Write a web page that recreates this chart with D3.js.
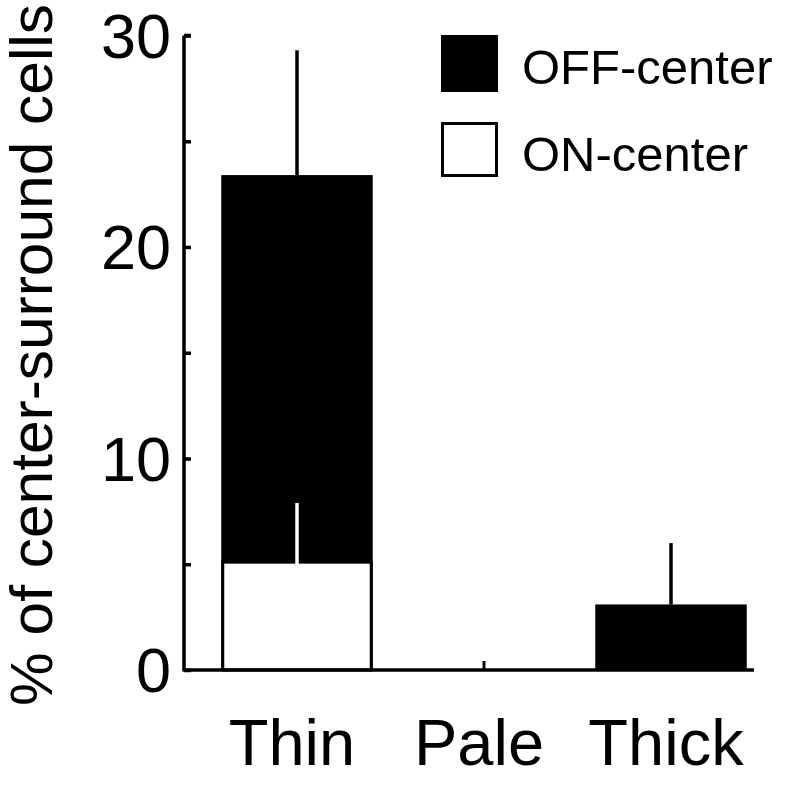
<!DOCTYPE html>
<html>
<head>
<meta charset="utf-8">
<script src="https://cdn.jsdelivr.net/npm/d3@7"></script>
<style>
  body { margin: 0; background: #fff; }
  text { font-family: "Liberation Sans", Arial, sans-serif; fill: #000; }
</style>
</head>
<body>
<svg id="chart" width="786" height="786"></svg>
<script>
// values
const categories = ["Thin", "Pale", "Thick"];
const onCenter = [5.1, 0, 0];
const offCenter = [18.3, 0, 3.1];
const onErr = [2.8, 0, 0];      // error on ON-center part
const totalErr = [5.9, 0, 2.9]; // error on the stacked total
const yTicks = [0, 5, 10, 15, 20, 25, 30];
const yLabels = [0, 10, 20, 30];
const legendItems = ["OFF-center", "ON-center"];

let svg = d3.select("#chart");

let y = d3.scaleLinear().domain([0, 30]).range([670, 35.5]);
let x = d3.scaleBand().domain(categories)
    .range([203.5, 764.5])
    .paddingInner(0.19)
    .paddingOuter(0.095);

let axisX0 = 184;

let rows = categories.map((c, i) => ({
    cat: c,
    on: onCenter[i],
    total: onCenter[i] + offCenter[i],
    onErr: onErr[i],
    totalErr: totalErr[i]
}));

// total bar (black) with its error bar
let g = svg.append("g");

g.selectAll(".err")
    .data(rows.filter(d => d.totalErr > 0))
    .join("line")
    .attr("x1", d => x(d.cat) + x.bandwidth() / 2)
    .attr("x2", d => x(d.cat) + x.bandwidth() / 2)
    .attr("y1", d => y(d.total))
    .attr("y2", d => y(d.total + d.totalErr))
    .attr("stroke", "#000")
    .attr("stroke-width", 3.5);

g.selectAll(".off")
    .data(rows.filter(d => d.total > 0))
    .join("rect")
    .attr("x", d => x(d.cat))
    .attr("width", x.bandwidth())
    .attr("y", d => y(d.total))
    .attr("height", d => y(0) - y(d.total))
    .attr("fill", "#000");

// ON-center part (white, black outline)
g.selectAll(".on")
    .data(rows.filter(d => d.on > 0))
    .join("rect")
    .attr("x", d => x(d.cat) + 1.5)
    .attr("width", x.bandwidth() - 3)
    .attr("y", d => y(d.on))
    .attr("height", d => y(0) - y(d.on))
    .attr("fill", "#fff")
    .attr("stroke", "#000")
    .attr("stroke-width", 3);

g.selectAll(".onerr")
    .data(rows.filter(d => d.onErr > 0))
    .join("line")
    .attr("x1", d => x(d.cat) + x.bandwidth() / 2)
    .attr("x2", d => x(d.cat) + x.bandwidth() / 2)
    .attr("y1", d => y(d.on) + 2)
    .attr("y2", d => y(d.on + d.onErr))
    .attr("stroke", "#fff")
    .attr("stroke-width", 3.5);

// y axis
let yAxis = d3.axisRight(y).tickValues(yTicks).tickSize(7).tickFormat("");
let ya = svg.append("g").attr("transform", `translate(${axisX0},0)`).call(yAxis);
ya.select(".domain").attr("d", `M0,${y(30)}H7M0,${y(30)}V${y(0)}`).attr("stroke-width", 3.5);
ya.selectAll(".tick line").attr("stroke-width", 3.5);

svg.selectAll(".ylab")
    .data(yLabels)
    .join("text")
    .attr("x", 171)
    .attr("y", d => y(d))
    .attr("dy", "0.35em")
    .attr("text-anchor", "end")
    .attr("font-size", 63)
    .text(d => d);

// x axis
svg.append("line")
    .attr("x1", axisX0 - 1.5).attr("x2", 754)
    .attr("y1", y(0)).attr("y2", y(0))
    .attr("stroke", "#000").attr("stroke-width", 3.5);

svg.selectAll(".xtick")
    .data(categories.filter((c, i) => onCenter[i] + offCenter[i] === 0))
    .join("line")
    .attr("x1", d => x(d) + x.bandwidth() / 2)
    .attr("x2", d => x(d) + x.bandwidth() / 2)
    .attr("y1", y(0))
    .attr("y2", y(0) - 9)
    .attr("stroke", "#000").attr("stroke-width", 3);

svg.selectAll(".xlab")
    .data(categories)
    .join("text")
    .attr("x", d => x(d) + x.bandwidth() / 2 - 5)
    .attr("y", 765)
    .attr("text-anchor", "middle")
    .attr("font-size", 65)
    .text(d => d);

// y title
svg.append("text")
    .attr("transform", "translate(52,355) rotate(-90)")
    .attr("text-anchor", "middle")
    .attr("font-size", 59)
    .attr("textLength", 702)
    .attr("lengthAdjust", "spacingAndGlyphs")
    .text("% of center-surround cells");

// legend
let legend = svg.append("g");
let lg = legend.selectAll("g")
    .data(legendItems)
    .join("g")
    .attr("transform", (d, i) => `translate(441,${35 + i * 87})`);

lg.append("rect")
    .attr("x", (d, i) => i === 0 ? 0 : 1.5)
    .attr("y", (d, i) => i === 0 ? 0 : 1.5)
    .attr("width", (d, i) => i === 0 ? 57 : 54)
    .attr("height", (d, i) => i === 0 ? 57 : 52)
    .attr("fill", (d, i) => i === 0 ? "#000" : "#fff")
    .attr("stroke", "#000")
    .attr("stroke-width", (d, i) => i === 0 ? 0 : 3);

lg.append("text")
    .attr("x", 81)
    .attr("y", 49)
    .attr("font-size", 49)
    .text(d => d);
</script>
</body>
</html>
